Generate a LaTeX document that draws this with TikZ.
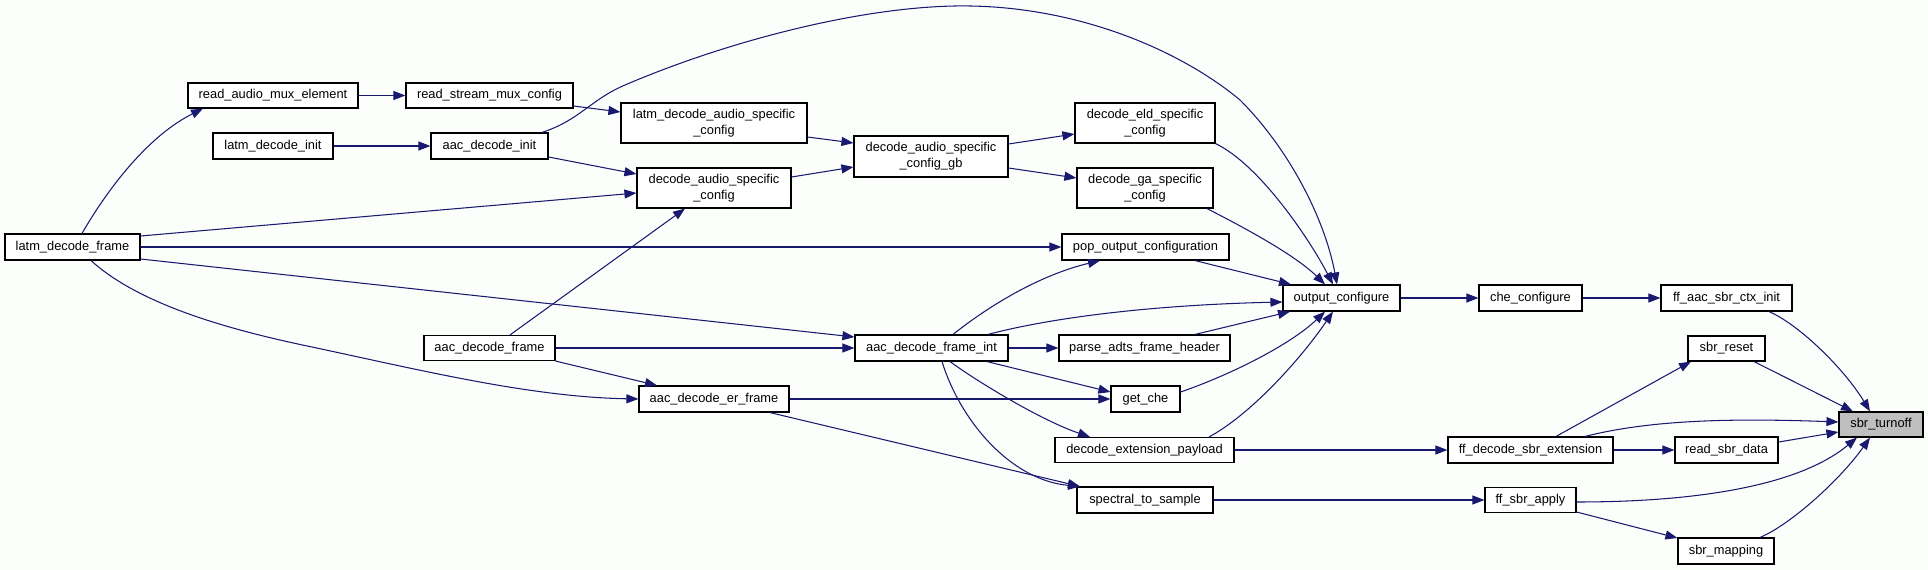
\documentclass[tikz,border=0pt]{standalone}
\usepackage{fontspec}
\setmainfont{Liberation Sans}
\usetikzlibrary{arrows.meta}
\definecolor{edgeblue}{HTML}{191970}
\definecolor{bgc}{RGB}{252,254,252}
\definecolor{hl}{HTML}{BFBFBF}
\begin{document}
\begin{tikzpicture}[x=1pt,y=-1pt,
  box/.style={draw=black,fill=white,line width=1.15pt,inner sep=0pt,align=center,
    font=\fontsize{12.85}{16}\selectfont},
  e/.style={draw=edgeblue,line width=1.05pt,-{Triangle[length=12pt,width=9pt]}}]
\fill[bgc] (0,0) rectangle (1928,570);
\useasboundingbox (0,0) rectangle (1928,570);
% nodes
\node[box,minimum width=135pt,minimum height=26pt] (lframe) at (72.5,247) {latm\_decode\_frame};
\node[box,minimum width=170pt,minimum height=25pt] (rame) at (273,95.5) {read\_audio\_mux\_element};
\node[box,minimum width=167pt,minimum height=25pt] (rsmc) at (489.5,95.5) {read\_stream\_mux\_config};
\node[box,minimum width=120pt,minimum height=26pt] (ldinit) at (273,146) {latm\_decode\_init};
\node[box,minimum width=117pt,minimum height=26pt] (adinit) at (489.5,146) {aac\_decode\_init};
\node[box,minimum width=186pt,minimum height=40pt] (ldasc) at (714,123) {latm\_decode\_audio\_specific\\\_config};
\node[box,minimum width=154pt,minimum height=40pt] (dasc) at (714,188) {decode\_audio\_specific\\\_config};
\node[box,minimum width=154pt,minimum height=41pt] (dascgb) at (931,156.5) {decode\_audio\_specific\\\_config\_gb};
\node[box,minimum width=140pt,minimum height=40pt] (deld) at (1145,123) {decode\_eld\_specific\\\_config};
\node[box,minimum width=136pt,minimum height=40pt] (dga) at (1145,188) {decode\_ga\_specific\\\_config};
\node[box,minimum width=167pt,minimum height=26pt] (pop) at (1145.5,247) {pop\_output\_configuration};
\node[box,minimum width=117pt,minimum height=26pt] (oc) at (1341.5,298) {output\_configure};
\node[box,minimum width=131pt,minimum height=25pt] (adframe) at (489.5,348) {aac\_decode\_frame};
\node[box,minimum width=153pt,minimum height=26pt] (adfi) at (931.5,348) {aac\_decode\_frame\_int};
\node[box,minimum width=171pt,minimum height=26pt] (padts) at (1144.5,348) {parse\_adts\_frame\_header};
\node[box,minimum width=150pt,minimum height=26pt] (aerf) at (714,399) {aac\_decode\_er\_frame};
\node[box,minimum width=69pt,minimum height=26pt] (getche) at (1145.5,399) {get\_che};
\node[box,minimum width=179pt,minimum height=25pt] (dep) at (1144.5,450) {decode\_extension\_payload};
\node[box,minimum width=136pt,minimum height=26pt] (sts) at (1145,500) {spectral\_to\_sample};
\node[box,minimum width=103pt,minimum height=26pt] (checonf) at (1530.5,298) {che\_configure};
\node[box,minimum width=131pt,minimum height=26pt] (ffinit) at (1726.5,298) {ff\_aac\_sbr\_ctx\_init};
\node[box,minimum width=77pt,minimum height=25pt] (sbrreset) at (1726.5,348.5) {sbr\_reset};
\node[box,minimum width=84pt,minimum height=25pt,fill=hl] (sbrturnoff) at (1881,424.5) {sbr\_turnoff};
\node[box,minimum width=165pt,minimum height=26pt] (ffdse) at (1530.5,450) {ff\_decode\_sbr\_extension};
\node[box,minimum width=103pt,minimum height=26pt] (rsd) at (1726.5,450) {read\_sbr\_data};
\node[box,minimum width=91pt,minimum height=25pt] (ffapply) at (1530.5,500) {ff\_sbr\_apply};
\node[box,minimum width=96pt,minimum height=26pt] (sbrmap) at (1726,551) {sbr\_mapping};
% edges
\draw[e] (rame) -- (rsmc);
\draw[e] (lframe.north -| 82,0) .. controls (110,185) and (150,135) .. (rame.south -| 203,0);
\draw[e] (ldinit) -- (adinit);
\draw[e] (rsmc.east |- 0,106) -- (ldasc.west |- 0,112);
\draw[e] (adinit.north -| 542,0) .. controls (580,120) and (590,100) .. (625,85)
  .. controls (730,40) and (870,4) .. (971,6)
  .. controls (1080,8) and (1180,50) .. (1240,100)
  .. controls (1290,150) and (1325,220) .. (oc.north -| 1337,0);
\draw[e] (adinit.east |- 0,157) -- (dasc.west |- 0,174);
\draw[e] (lframe.east |- 0,236) -- (dasc.west |- 0,193);
\draw[e] (ldasc.east |- 0,137) -- (dascgb.west |- 0,143);
\draw[e] (dasc.east |- 0,177) -- (dascgb.west |- 0,167);
\draw[e] (dascgb.east |- 0,144) -- (deld.west |- 0,134);
\draw[e] (dascgb.east |- 0,168) -- (dga.west |- 0,178);
\draw[e] (deld.south east) .. controls (1260,165) and (1310,240) .. (oc.north -| 1333,0);
\draw[e] (dga.south -| 1207,0) .. controls (1245,228) and (1295,255) .. (oc.north -| 1325,0);
\draw[e] (lframe) -- (pop);
\draw[e] (pop.south -| 1195,0) -- (oc.north -| 1291,0);
\draw[e] (adframe.north -| 510,0) -- (dasc.south -| 685,0);
\draw[e] (lframe.east |- 0,259) -- (adfi.west |- 0,337);
\draw[e] (adframe) -- (adfi);
\draw[e] (adframe.south east) -- (aerf.north -| 657,0);
\draw[e] (lframe.south -| 91,0) .. controls (140,305) and (230,330) .. (312,347)
  .. controls (420,370) and (530,397) .. (aerf.west |- 0,399);
\draw[e] (adfi.north -| 953,0) .. controls (990,305) and (1040,275) .. (pop.south -| 1100,0);
\draw[e] (adfi.north -| 988,0) .. controls (1050,318) and (1150,305) .. (oc.west |- 0,302);
\draw[e] (adfi) -- (padts);
\draw[e] (padts.north -| 1195,0) -- (oc.south -| 1290,0);
\draw[e] (adfi.south -| 987,0) -- (getche.west |- 0,392);
\draw[e] (aerf) -- (getche);
\draw[e] (getche.east |- 0,392) .. controls (1230,375) and (1290,345) .. (oc.south -| 1325,0);
\draw[e] (adfi.south -| 950,0) .. controls (975,380) and (1040,420) .. (dep.north -| 1090,0);
\draw[e] (dep.north -| 1209,0) .. controls (1250,415) and (1300,360) .. (oc.south -| 1333,0);
\draw[e] (adfi.south -| 942,0) .. controls (960,420) and (1010,480) .. (sts.north -| 1080,0);
\draw[e] (aerf.south -| 770,0) -- (sts.north -| 1080,0);
\draw[e] (oc) -- (checonf);
\draw[e] (checonf) -- (ffinit);
\draw[e] (ffinit.south -| 1769,0) .. controls (1800,325) and (1845,370) .. (sbrturnoff.north -| 1870,0);
\draw[e] (ffdse.north -| 1556,0) -- (sbrreset.south -| 1691,0);
\draw[e] (sbrreset.south -| 1754,0) -- (sbrturnoff.north -| 1853,0);
\draw[e] (ffdse.north -| 1585,0) .. controls (1650,420) and (1730,418) .. (sbrturnoff.west |- 0,422);
\draw[e] (dep) -- (ffdse);
\draw[e] (ffdse) -- (rsd);
\draw[e] (rsd.east |- 0,442) -- (sbrturnoff.west |- 0,432);
\draw[e] (sts) -- (ffapply);
\draw[e] (ffapply.east |- 0,502) .. controls (1700,502) and (1800,485) .. (sbrturnoff.south -| 1857,0);
\draw[e] (ffapply.east |- 0,512) -- (sbrmap.west |- 0,538);
\draw[e] (sbrmap.north -| 1760,0) .. controls (1790,525) and (1840,480) .. (sbrturnoff.south -| 1870,0);
\end{tikzpicture}
\end{document}
